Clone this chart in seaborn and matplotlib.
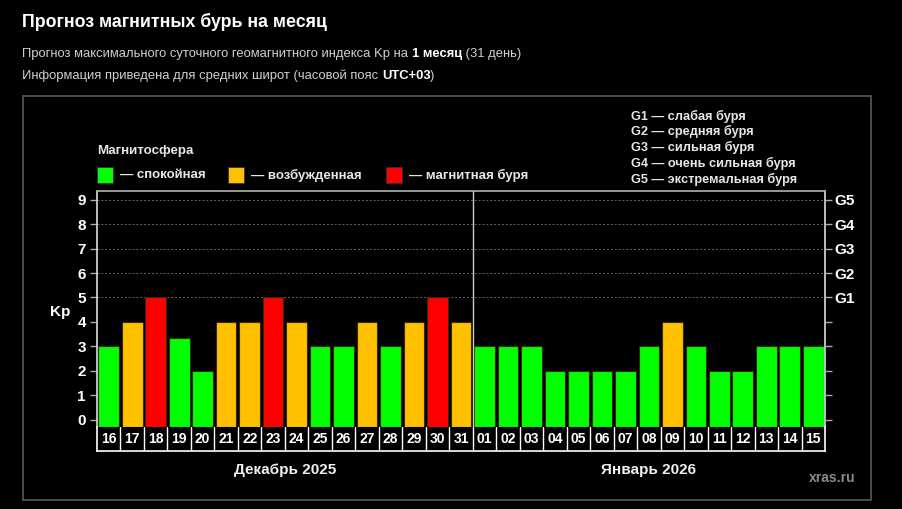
import matplotlib
matplotlib.use("Agg")
import matplotlib.pyplot as plt
import seaborn as sns
import pandas as pd
from matplotlib.patches import Rectangle

days = ["16", "17", "18", "19", "20", "21", "22", "23", "24", "25", "26", "27", "28", "29", "30", "31",
        "01", "02", "03", "04", "05", "06", "07", "08", "09", "10", "11", "12", "13", "14", "15"]
kp = [3, 4, 5, 3.33, 2, 4, 4, 5, 4, 3, 3, 4, 3, 4, 5, 4,
      3, 3, 3, 2, 2, 2, 2, 3, 4, 3, 2, 2, 3, 3, 3]
status = ["спокойная", "возбужденная", "магнитная буря", "спокойная", "спокойная", "возбужденная",
          "возбужденная", "магнитная буря", "возбужденная", "спокойная", "спокойная", "возбужденная",
          "спокойная", "возбужденная", "магнитная буря", "возбужденная",
          "спокойная", "спокойная", "спокойная", "спокойная", "спокойная", "спокойная", "спокойная",
          "спокойная", "возбужденная", "спокойная", "спокойная", "спокойная", "спокойная", "спокойная",
          "спокойная"]
months = ["Декабрь 2025", "Январь 2026"]
month_days = [16, 15]
g_labels = ["G1", "G2", "G3", "G4", "G5"]
g_text = ["G1 — слабая буря", "G2 — средняя буря", "G3 — сильная буря",
          "G4 — очень сильная буря", "G5 — экстремальная буря"]

palette = {"спокойная": "#00ff00", "возбужденная": "#ffc000", "магнитная буря": "#ff0000"}

sns.set_theme(style="dark", rc={"figure.facecolor": "black", "axes.facecolor": "black"})
plt.rcParams["font.family"] = ["Liberation Sans", "DejaVu Sans"]

df = pd.DataFrame({"day": days, "kp": kp, "status": status})

fig = plt.figure(figsize=(9.02, 5.09), dpi=100)
W, H = 902, 509


def fx(px):
    return px / W


def fy(py):
    return 1 - py / H


# outer frame
fig.patches.append(Rectangle((fx(23), fy(500)), fx(871) - fx(23), fy(96) - fy(500),
                             transform=fig.transFigure, fill=False, edgecolor="#5a5a5a", lw=1.2))

ax = fig.add_axes([fx(97), fy(426.7), fx(825) - fx(97), fy(190.7) - fy(426.7)])
sns.barplot(data=df, x="day", y="kp", hue="status", palette=palette, order=days,
            hue_order=list(palette), dodge=False, width=0.88, saturation=1,
            edgecolor="#3a2a00", linewidth=0.8, legend=False, ax=ax)
ymin, ymax = -0.29, 9.37
for p in ax.patches:
    h = p.get_height()
    p.set_y(ymin)
    p.set_height(h - ymin)
ax.set_ylim(ymin, ymax)
ax.set_xlim(-0.5, len(days) - 0.5)
ax.set_yticks(range(10))
ax.set_yticklabels([str(i) for i in range(10)], color="white", fontweight="bold", fontsize=11)
ax.set_xticks([])
ax.set_xlabel("")
ax.set_ylabel("Kp", color="white", fontweight="bold", fontsize=11, rotation=0)
ax.yaxis.set_label_coords(-0.05, 0.455)
ax.tick_params(axis="y", left=True, length=5, width=1, color="#aaaaaa", pad=3)
ax.grid(False)
for v in range(5, 10):
    ax.axhline(v, color="#666666", lw=0.7, ls=(0, (2, 2)), zorder=0)
ax.axvline(month_days[0] - 0.5, color="#cccccc", lw=1, zorder=3)
for s in ["left", "right"]:
    ax.spines[s].set_color("#dddddd")
    ax.spines[s].set_linewidth(1.2)
ax.spines["top"].set_color("#aaaaaa")
ax.spines["bottom"].set_visible(False)

rax = ax.twinx()
rax.set_ylim(ymin, ymax)
rax.set_yticks(range(10))
rax.set_yticklabels([""] * 5 + g_labels, color="white", fontweight="bold", fontsize=11)
rax.tick_params(axis="y", right=True, length=5, width=1, color="#aaaaaa", pad=1.5)
rax.grid(False)
for s in rax.spines.values():
    s.set_visible(False)

# day strip
dax = fig.add_axes([fx(97), fy(451), fx(825) - fx(97), fy(426.7) - fy(451)])
dax.set_facecolor("black")
dax.set_xlim(-0.5, len(days) - 0.5)
dax.set_ylim(0, 1)
dax.set_xticks([])
dax.set_yticks([])
dax.grid(False)
for s in ["left", "right", "bottom"]:
    dax.spines[s].set_color("white")
    dax.spines[s].set_linewidth(1.2)
dax.spines["top"].set_visible(False)
for i, d in enumerate(days):
    dax.text(i, 0.5, d, color="white", fontweight="bold", fontsize=10, ha="center", va="center")
    if i > 0:
        dax.axvline(i - 0.5, color="white", lw=1)

# month labels
start = 0
for m, n in zip(months, month_days):
    dax.text(start + n / 2 - 0.5, -0.8, m, color="#eeeeee", fontweight="bold", fontsize=11,
             ha="center", va="center")
    start += n

# titles
fig.text(fx(22), fy(22), "Прогноз магнитных бурь на месяц", color="white", fontweight="bold",
         fontsize=12.8, va="center")
renderer = fig.canvas.get_renderer()


def mixed(parts, x, y):
    for txt, bold in parts:
        t = fig.text(x, y, txt, color="white" if bold else "#cfcfcf",
                     fontweight="bold" if bold else "normal", fontsize=9.4, va="center")
        bb = t.get_window_extent(renderer)
        x += bb.width / W


mixed([("Прогноз максимального суточного геомагнитного индекса Kp на ", False),
       ("1 месяц", True), (" (31 день)", False)], fx(22), fy(54))
mixed([("Информация приведена для средних широт (часовой пояс ", False),
       ("UTC+03", True), (")", False)], fx(22), fy(76))

# legend
fig.text(fx(97), fy(151), "Магнитосфера", color="#e6e6e6", fontweight="bold", fontsize=9.6, va="center")
for (name, col), px in zip(palette.items(), [97, 228, 386]):
    fig.patches.append(Rectangle((fx(px), fy(182.7)), fx(15.5), fy(167.3) - fy(182.7),
                                 transform=fig.transFigure, facecolor=col, edgecolor="#333333", lw=0.6))
    fig.text(fx(px + 23), fy(175), "— " + name, color="#e6e6e6", fontweight="bold", fontsize=9.5,
             va="center")

for i, t in enumerate(g_text):
    fig.text(fx(631), fy(116 + i * 15.8), t, color="#e6e6e6", fontweight="bold", fontsize=9.2,
             va="center")

fig.text(fx(809), fy(478), "xras.ru", color="#8a8a8a", fontweight="bold", fontsize=10, va="center")

fig.savefig("out.png", dpi=100, facecolor="black")
